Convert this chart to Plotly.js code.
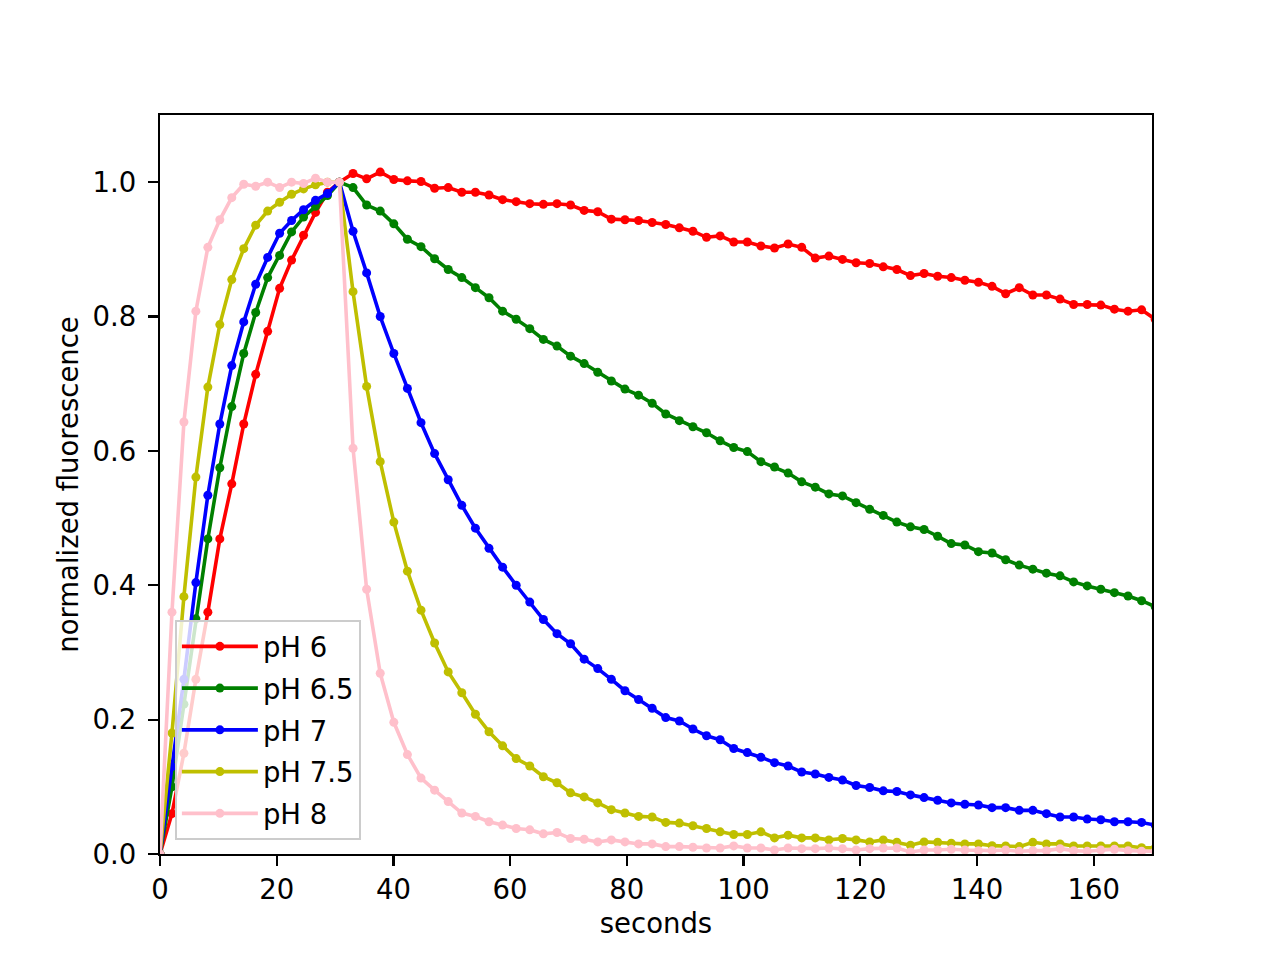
<!DOCTYPE html>
<html>
<head>
<meta charset="utf-8">
<script src="https://cdn.plot.ly/plotly-3.0.1.min.js"></script>
<style>
  html, body { margin: 0; padding: 0; background: #ffffff; }
  #chart { width: 1280px; height: 960px; }
</style>
</head>
<body>
<div id="chart"></div>
<script>
// time axis (seconds)
const seconds = [
  0, 2.05, 4.1, 6.15, 8.2, 10.25, 12.3, 14.35, 16.4, 18.45, 20.5, 22.55, 24.6, 26.65, 28.7, 30.75,
  33.08, 35.41, 37.74, 40.07, 42.4, 44.73, 47.06, 49.39, 51.72, 54.05,
  56.38, 58.71, 61.04, 63.37, 65.7, 68.03, 70.36, 72.69, 75.02, 77.35,
  79.68, 82.01, 84.34, 86.67, 89.0, 91.33, 93.66, 95.99, 98.32, 100.65,
  102.98, 105.31, 107.64, 109.97, 112.3, 114.63, 116.96, 119.29, 121.62, 123.95,
  126.28, 128.61, 130.94, 133.27, 135.6, 137.93, 140.26, 142.59, 144.92, 147.25,
  149.58, 151.91, 154.24, 156.57, 158.9, 161.23, 163.56, 165.89, 168.22, 170.55
];

const seriesNames = ["pH 6", "pH 6.5", "pH 7", "pH 7.5", "pH 8"];

const pH6 = [
  0, 0.06, 0.15, 0.26, 0.36, 0.469, 0.551, 0.640, 0.714, 0.778, 0.842, 0.884, 0.921, 0.955, 0.985, 1.0,
  1.013, 1.005, 1.015, 1.004, 1.002, 1.001, 0.991, 0.992, 0.985, 0.985,
  0.981, 0.974, 0.971, 0.968, 0.967, 0.968, 0.966, 0.958, 0.956, 0.945,
  0.944, 0.943, 0.940, 0.937, 0.932, 0.927, 0.918, 0.920, 0.911, 0.911,
  0.905, 0.902, 0.908, 0.903, 0.887, 0.890, 0.885, 0.880, 0.879, 0.874,
  0.870, 0.861, 0.864, 0.860, 0.858, 0.854, 0.851, 0.845, 0.834, 0.843,
  0.832, 0.832, 0.826, 0.818, 0.818, 0.817, 0.811, 0.808, 0.810, 0.796
];

const pH6_5 = [
  0, 0.10, 0.223, 0.35, 0.469, 0.575, 0.666, 0.745, 0.806, 0.858, 0.891, 0.926, 0.948, 0.964, 0.980, 1.0,
  0.992, 0.966, 0.957, 0.938, 0.915, 0.904, 0.886, 0.870, 0.858, 0.843,
  0.828, 0.808, 0.796, 0.782, 0.766, 0.756, 0.741, 0.730, 0.717, 0.704,
  0.692, 0.683, 0.671, 0.655, 0.645, 0.636, 0.627, 0.615, 0.605, 0.599,
  0.584, 0.576, 0.567, 0.554, 0.546, 0.536, 0.533, 0.523, 0.513, 0.504,
  0.494, 0.487, 0.483, 0.473, 0.462, 0.460, 0.450, 0.448, 0.438, 0.430,
  0.424, 0.418, 0.414, 0.405, 0.399, 0.394, 0.389, 0.384, 0.377, 0.368
];

const pH7 = [
  0, 0.13, 0.26, 0.404, 0.534, 0.640, 0.727, 0.792, 0.848, 0.888, 0.924, 0.943, 0.959, 0.973, 0.983, 1.0,
  0.927, 0.865, 0.800, 0.745, 0.693, 0.642, 0.596, 0.557, 0.519, 0.485,
  0.455, 0.427, 0.400, 0.375, 0.349, 0.328, 0.313, 0.290, 0.276, 0.260,
  0.243, 0.230, 0.217, 0.203, 0.198, 0.186, 0.176, 0.170, 0.157, 0.151,
  0.144, 0.136, 0.131, 0.122, 0.119, 0.114, 0.110, 0.102, 0.099, 0.094,
  0.093, 0.088, 0.084, 0.080, 0.076, 0.074, 0.073, 0.069, 0.069, 0.065,
  0.065, 0.060, 0.055, 0.055, 0.052, 0.051, 0.048, 0.048, 0.047, 0.043
];

const pH7_5 = [
  0, 0.18, 0.383, 0.561, 0.695, 0.788, 0.855, 0.901, 0.936, 0.957, 0.970, 0.982, 0.990, 0.996, 1.0, 1.0,
  0.837, 0.696, 0.584, 0.494, 0.421, 0.363, 0.314, 0.271, 0.240, 0.208,
  0.182, 0.161, 0.142, 0.131, 0.115, 0.106, 0.091, 0.085, 0.076, 0.066,
  0.061, 0.056, 0.055, 0.047, 0.046, 0.042, 0.038, 0.033, 0.029, 0.029,
  0.033, 0.024, 0.028, 0.024, 0.024, 0.021, 0.023, 0.021, 0.018, 0.021,
  0.0175, 0.013, 0.018, 0.0175, 0.016, 0.015, 0.015, 0.0124, 0.012, 0.011,
  0.0174, 0.015, 0.015, 0.012, 0.012, 0.012, 0.012, 0.012, 0.0094, 0.009
];

const pH8 = [
  0, 0.36, 0.643, 0.808, 0.903, 0.944, 0.977, 0.997, 0.994, 1.0, 0.992, 1.0, 0.998, 1.006, 1.0, 1.0,
  0.604, 0.394, 0.269, 0.196, 0.148, 0.113, 0.095, 0.078, 0.061, 0.056,
  0.048, 0.043, 0.038, 0.036, 0.030, 0.032, 0.023, 0.022, 0.018, 0.021,
  0.018, 0.015, 0.015, 0.011, 0.011, 0.010, 0.009, 0.009, 0.012, 0.009,
  0.009, 0.006, 0.009, 0.008, 0.008, 0.009, 0.008, 0.006, 0.008, 0.009,
  0.009, 0.003, 0.006, 0.006, 0.007, 0.006, 0.005, 0.005, 0.006, 0.004,
  0.005, 0.005, 0.008, 0.005, 0.004, 0.006, 0.007, 0.005, 0.004, 0.004
];

const xTicks = [0, 20, 40, 60, 80, 100, 120, 140, 160];
const yTicks = [0.0, 0.2, 0.4, 0.6, 0.8, 1.0];
const yTickLabels = ["0.0", "0.2", "0.4", "0.6", "0.8", "1.0"];

const colors = ["#ff0000", "#008000", "#0000ff", "#bfbf00", "#ffc0cb"];
const allSeries = [pH6, pH6_5, pH7, pH7_5, pH8];

const FONT = "DejaVu Sans, Verdana, sans-serif";
const FS = 27.5;

const traces = allSeries.map((ys, i) => ({
  type: "scatter",
  mode: "lines+markers",
  x: seconds,
  y: ys,
  name: seriesNames[i],
  legendgroup: "g" + i,
  line: { color: colors[i], width: 3.6 },
  marker: { color: colors[i], size: 9, line: { width: 0 } },
  cliponaxis: true
}));

const layout = {
  width: 1280,
  height: 960,
  paper_bgcolor: "#ffffff",
  plot_bgcolor: "#ffffff",
  margin: { l: 160, r: 128, t: 115, b: 106, pad: 0 },
  font: { family: FONT, size: FS, color: "#000000" },
  showlegend: true,
  legend: {
    x: 0.015, y: 0.019, xanchor: "left", yanchor: "bottom",
    bgcolor: "rgba(255,255,255,0.8)",
    bordercolor: "#cccccc",
    borderwidth: 2,
    font: { family: FONT, size: FS, color: "#000000" },
    tracegroupgap: 3,
    itemwidth: 76
  },
  xaxis: {
    range: [0, 170],
    tickmode: "array",
    tickvals: xTicks,
    ticks: "outside",
    ticklen: 10,
    tickwidth: 2.2,
    tickcolor: "#000000",
    showgrid: false,
    zeroline: false,
    showline: true,
    linecolor: "#000000",
    linewidth: 2.2,
    mirror: true,
    tickfont: { family: FONT, size: FS, color: "#000000" },
    ticklabelstandoff: 0,
    title: { text: "seconds", font: { family: FONT, size: FS, color: "#000000" }, standoff: 10 }
  },
  yaxis: {
    range: [0, 1.1],
    tickmode: "array",
    tickvals: yTicks,
    ticktext: yTickLabels,
    ticks: "outside",
    ticklen: 10,
    tickwidth: 2.2,
    tickcolor: "#000000",
    showgrid: false,
    zeroline: false,
    showline: true,
    linecolor: "#000000",
    linewidth: 2.2,
    mirror: true,
    tickfont: { family: FONT, size: FS, color: "#000000" },
    ticklabelstandoff: 6,
    title: { text: "normalized fluorescence", font: { family: FONT, size: FS, color: "#000000" }, standoff: 6 }
  }
};

Plotly.newPlot("chart", traces, layout, { displayModeBar: false, staticPlot: true });
</script>
</body>
</html>
